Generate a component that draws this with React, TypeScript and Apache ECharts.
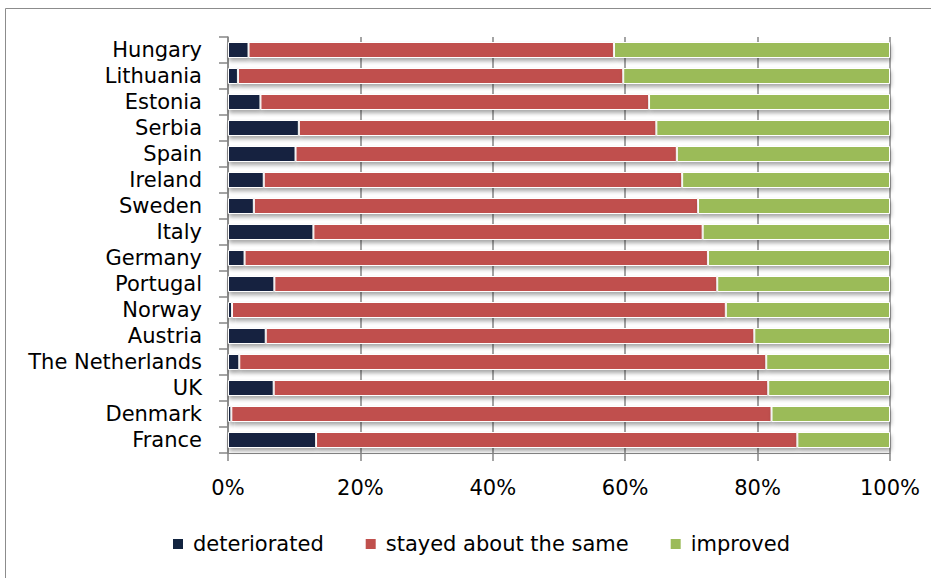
import React, { useEffect, useRef } from "react";
import * as echarts from "echarts";

// Countries, bottom-to-top order on the category axis
const countries = [
  "France",
  "Denmark",
  "UK",
  "The Netherlands",
  "Austria",
  "Norway",
  "Portugal",
  "Germany",
  "Italy",
  "Sweden",
  "Ireland",
  "Spain",
  "Serbia",
  "Estonia",
  "Lithuania",
  "Hungary",
];

// Share of respondents (%) per country
const deteriorated = [13.3, 0.5, 6.9, 1.7, 5.7, 0.6, 7.0, 2.5, 12.9, 3.9, 5.4, 10.2, 10.7, 4.9, 1.5, 3.1];
const stayedSame = [72.7, 81.6, 74.7, 79.6, 73.8, 74.6, 66.9, 70.0, 58.8, 67.1, 63.2, 57.6, 54.0, 58.7, 58.2, 55.2];
const improved = [14.0, 17.9, 18.4, 18.7, 20.5, 24.8, 26.1, 27.5, 28.3, 29.0, 31.4, 32.2, 35.3, 36.4, 40.3, 41.7];

const seriesNames = ["deteriorated", "stayed about the same", "improved"];
const seriesColors = ["#122440", "#C0504D", "#9BBB59"];

const FONT = "'DejaVu Sans', 'Open Sans', sans-serif";
const FONT_SIZE = 21;

export default function App() {
  const ref = useRef<HTMLDivElement>(null);

  useEffect(() => {
    if (!ref.current) return;
    const chart = echarts.init(ref.current, null, { renderer: "svg" });
    const values = [deteriorated, stayedSame, improved];

    chart.setOption({
      animation: false,
      backgroundColor: "#ffffff",
      textStyle: { fontFamily: FONT },
      graphic: [
        {
          type: "rect",
          shape: { x: 5.5, y: 8.5, width: 960, height: 600 },
          style: { fill: "none", stroke: "#8c8c8c", lineWidth: 1 },
          silent: true,
        },
      ],
      grid: { left: 228, right: 41, top: 37, bottom: 125, containLabel: false },
      legend: {
        bottom: 17,
        left: 166,
        itemWidth: 12,
        itemHeight: 12,
        itemGap: 40,
        icon: "rect",
        textStyle: {
          fontSize: FONT_SIZE,
          lineHeight: 24,
          color: "#000",
          fontFamily: FONT,
          padding: [0, 0, 0, 4],
        },
        data: seriesNames,
      },
      xAxis: {
        type: "value",
        min: 0,
        max: 100,
        interval: 20,
        axisLine: { show: true, lineStyle: { color: "#868686", width: 1 } },
        axisTick: { show: true, length: 8, lineStyle: { color: "#868686", width: 1.5 } },
        splitLine: { show: true, lineStyle: { color: "#868686", width: 1.5 } },
        axisLabel: {
          formatter: "{value}%",
          fontSize: FONT_SIZE,
          lineHeight: 24,
          color: "#000",
          margin: 23,
          fontFamily: FONT,
        },
      },
      yAxis: {
        type: "category",
        data: countries,
        axisLine: { show: true, lineStyle: { color: "#868686", width: 1.5 } },
        axisTick: { show: true, length: 9, lineStyle: { color: "#868686", width: 1.5 } },
        axisLabel: {
          interval: 0,
          fontSize: FONT_SIZE,
          lineHeight: 22,
          color: "#000",
          margin: 26,
          fontFamily: FONT,
        },
      },
      series: seriesNames.map((name, i) => ({
        name,
        type: "bar",
        stack: "total",
        barWidth: 16,
        data: values[i],
        itemStyle: {
          color: seriesColors[i],
          borderColor: "#ffffff",
          borderWidth: 1,
          shadowColor: "rgba(0,0,0,0.35)",
          shadowBlur: 4,
          shadowOffsetX: 1,
          shadowOffsetY: 3,
        },
      })),
    });

    return () => chart.dispose();
  }, []);

  return (
    <div
      ref={ref}
      style={{ position: "absolute", left: 0, top: 0, width: 931, height: 578 }}
    />
  );
}
